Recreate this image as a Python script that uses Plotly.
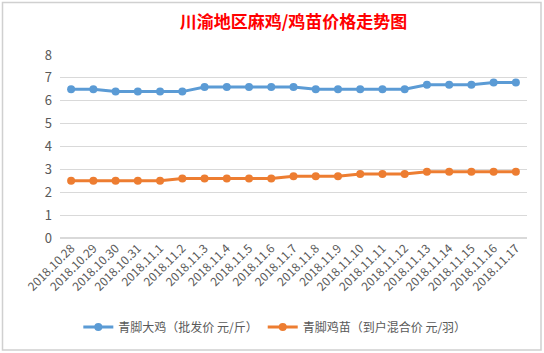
import plotly.graph_objects as go

dates = ["2018.10.28", "2018.10.29", "2018.10.30", "2018.10.31", "2018.11.1", "2018.11.2",
         "2018.11.3", "2018.11.4", "2018.11.5", "2018.11.6", "2018.11.7", "2018.11.8",
         "2018.11.9", "2018.11.10", "2018.11.11", "2018.11.12", "2018.11.13", "2018.11.14",
         "2018.11.15", "2018.11.16", "2018.11.17"]
big_chicken = [6.5, 6.5, 6.4, 6.4, 6.4, 6.4, 6.6, 6.6, 6.6, 6.6, 6.6, 6.5, 6.5, 6.5, 6.5, 6.5,
               6.7, 6.7, 6.7, 6.8, 6.8]
chick = [2.5, 2.5, 2.5, 2.5, 2.5, 2.6, 2.6, 2.6, 2.6, 2.6, 2.7, 2.7, 2.7, 2.8, 2.8, 2.8,
         2.9, 2.9, 2.9, 2.9, 2.9]
name1 = "青脚大鸡（批发价 元/斤）"
name2 = "青脚鸡苗（到户混合价 元/羽）"
title = "川渝地区麻鸡/鸡苗价格走势图"

FONT = "Noto Sans CJK SC, Liberation Sans, sans-serif"
W, H = 544, 353

fig = go.Figure()
fig.add_trace(go.Scatter(x=dates, y=big_chicken, name=name1, mode="lines+markers",
                         line=dict(color="#5B9BD5", width=3),
                         marker=dict(color="#5B9BD5", size=8)))
fig.add_trace(go.Scatter(x=dates, y=chick, name=name2, mode="lines+markers",
                         line=dict(color="#ED7D31", width=3),
                         marker=dict(color="#ED7D31", size=8)))

shapes = []
shapes.append(dict(type="rect", xref="paper", yref="paper",
                   x0=(2.5 - 60) / 467, x1=(541 - 60) / 467,
                   y0=-(350 - 238) / 183, y1=1 + (55 - 2.5) / 183,
                   line=dict(color="#D0D0D0", width=1.5), fillcolor="rgba(0,0,0,0)", layer="below"))

fig.update_layout(
    width=W, height=H,
    margin=dict(l=60, r=17, t=55, b=115),
    paper_bgcolor="white", plot_bgcolor="white",
    title=dict(text=title, x=0.5, xref="paper", xanchor="center", y=1 - 22 / H, yanchor="middle",
               font=dict(family=FONT, size=17, color="#FF0000", weight="bold")),
    font=dict(family=FONT, color="#595959"),
    showlegend=True,
    legend=dict(orientation="h", x=0.46, xanchor="center", y=-(327 - 238) / 183, yanchor="middle",
                font=dict(size=12, color="#595959"), itemwidth=30, tracegroupgap=0),
    xaxis=dict(type="category", tickangle=-45, tickfont=dict(size=12, color="#595959"),
               showgrid=False, showline=False, ticks="", range=[-0.5, 20.5]),
    yaxis=dict(range=[0, 8], dtick=1, tickfont=dict(size=13, color="#595959"),
               gridcolor="#D9D9D9", gridwidth=1, zeroline=True, zerolinecolor="#D9D9D9",
               showline=False, ticks="", ticklen=0, ticklabelstandoff=7),
    shapes=shapes,
)

fig.write_html("out.html")
